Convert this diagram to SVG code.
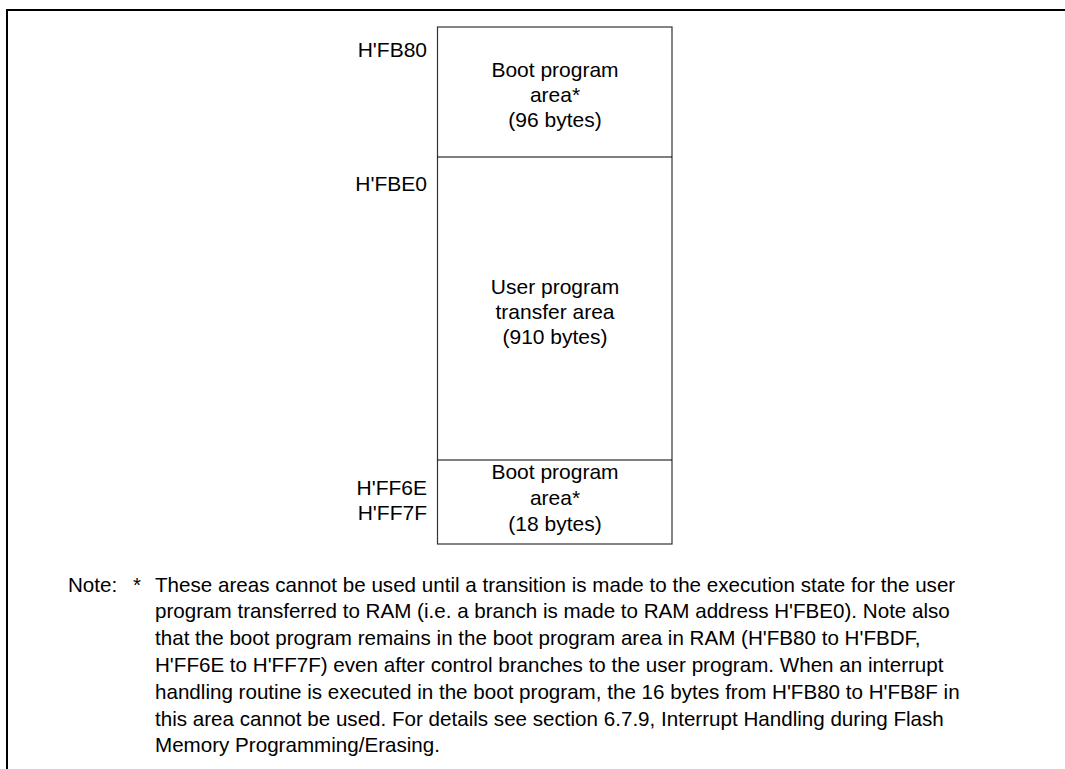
<svg xmlns="http://www.w3.org/2000/svg" width="1065" height="769" viewBox="0 0 1065 769">
<style>
text{font-family:"Liberation Sans",Arial,sans-serif;fill:#000}
.lbl{font-size:21px;text-anchor:end}
.box{font-size:21px;text-anchor:middle}
.note{font-size:20.6px}
.frame{fill:none;stroke:#000;stroke-width:2}
.outline{fill:#fff;stroke:#333;stroke-width:1.2}
.div{stroke:#000;stroke-width:1.2}
</style>
<rect width="1065" height="769" fill="#fff"/>
<path class="frame" d="M7,769 V10 H1065"/>
<g id="memory-map">
<rect class="outline" x="437.5" y="27" width="234.5" height="517"/>
</g>
<g id="connectors">
<line class="div" x1="437.5" y1="157" x2="672" y2="157"/>
<line class="div" x1="437.5" y1="460" x2="672" y2="460"/>
</g>
<g id="boot-area-1">
<text class="box" x="555" y="77">Boot program</text>
<text class="box" x="555" y="102">area*</text>
<text class="box" x="555" y="127">(96 bytes)</text>
</g>
<g id="user-area">
<text class="box" x="555" y="294">User program</text>
<text class="box" x="555" y="319">transfer area</text>
<text class="box" x="555" y="344">(910 bytes)</text>
</g>
<g id="boot-area-2">
<text class="box" x="555" y="479">Boot program</text>
<text class="box" x="555" y="505">area*</text>
<text class="box" x="555" y="531">(18 bytes)</text>
</g>
<g id="addresses">
<text class="lbl" x="427" y="57">H'FB80</text>
<text class="lbl" x="427" y="191">H'FBE0</text>
<text class="lbl" x="427" y="495">H'FF6E</text>
<text class="lbl" x="427" y="520">H'FF7F</text>
</g>
<g id="note">
<text class="note" x="68" y="591.5">Note:</text>
<text class="note" x="133" y="591.5">*</text>
<text class="note" x="155" y="591.5">These areas cannot be used until a transition is made to the execution state for the user</text>
<text class="note" x="155" y="618.3">program transferred to RAM (i.e. a branch is made to RAM address H'FBE0). Note also</text>
<text class="note" x="155" y="645.1">that the boot program remains in the boot program area in RAM (H'FB80 to H'FBDF,</text>
<text class="note" x="155" y="671.9">H'FF6E to H'FF7F) even after control branches to the user program. When an interrupt</text>
<text class="note" x="155" y="698.7">handling routine is executed in the boot program, the 16 bytes from H'FB80 to H'FB8F in</text>
<text class="note" x="155" y="725.5">this area cannot be used. For details see section 6.7.9, Interrupt Handling during Flash</text>
<text class="note" x="155" y="752.3">Memory Programming/Erasing.</text>
</g>
</svg>
